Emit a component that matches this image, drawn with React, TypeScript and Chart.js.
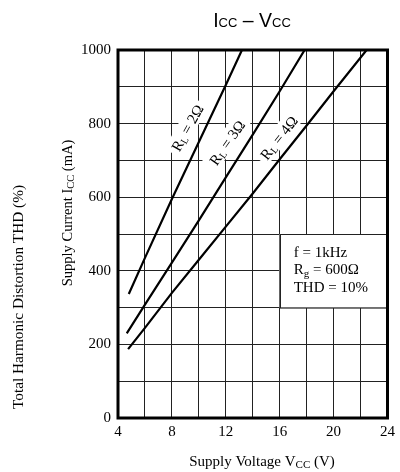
import { useEffect, useRef } from "react";
import { Chart, registerables } from "chart.js";

Chart.register(...registerables);

// Supply voltage (V) / supply current (mA)
const vccR2 = [4.8, 6, 8, 10, 12, 13.2];
const iccR2 = [337, 435, 595, 750, 905, 1000];
const vccR3 = [4.65, 6, 8, 10, 12, 14, 16, 17.85];
const iccR3 = [230, 308, 422, 537, 654, 770, 888, 1000];
const vccR4 = [4.75, 6, 8, 10, 12, 14, 16, 18, 20, 22.45];
const iccR4 = [187, 245, 340, 430, 520, 610, 703, 795, 888, 1000];

const loadNames = ["2Ω", "3Ω", "4Ω"];
const loadLabelV = [9.15, 12.1, 15.95];
const loadLabelI = [788, 748, 761];
const loadLabelAngle = [61, 55, 52];

const xTickLabels = [4, 8, 12, 16, 20, 24];
const yTickLabels = [0, 200, 400, 600, 800, 1000];

const infoBoxV = [16, 24];
const infoBoxI = [300, 500];
const infoLines = ["f = 1kHz", "R|g| = 600Ω", "THD = 10%"];

const SERIF = '"Liberation Serif", "Times New Roman", serif';
const SANS = '"Liberation Sans", Arial, sans-serif';

type Part = { t: string; size: number; dy?: number };

function drawRich(
  ctx: CanvasRenderingContext2D,
  parts: Part[],
  family: string,
  x: number,
  y: number,
  align: "left" | "center" | "right"
) {
  const widths = parts.map((p) => {
    ctx.font = `${p.size}px ${family}`;
    return ctx.measureText(p.t).width;
  });
  const total = widths.reduce((a, b) => a + b, 0);
  let cx = align === "center" ? x - total / 2 : align === "right" ? x - total : x;
  ctx.textAlign = "left";
  ctx.textBaseline = "alphabetic";
  parts.forEach((p, i) => {
    ctx.font = `${p.size}px ${family}`;
    ctx.fillText(p.t, cx, y + (p.dy || 0));
    cx += widths[i];
  });
  return total;
}

function measureRich(ctx: CanvasRenderingContext2D, parts: Part[], family: string) {
  let total = 0;
  parts.forEach((p) => {
    ctx.font = `${p.size}px ${family}`;
    total += ctx.measureText(p.t).width;
  });
  return total;
}

const overlay = {
  id: "overlay",
  beforeDatasetsDraw(chart: any) {
    const { ctx, scales } = chart;
    const x = scales.x;
    const y = scales.y;
    ctx.save();
    // info box
    const bx1 = x.getPixelForValue(infoBoxV[0]);
    const bx2 = x.getPixelForValue(infoBoxV[1]);
    const by1 = y.getPixelForValue(infoBoxI[1]);
    const by2 = y.getPixelForValue(infoBoxI[0]);
    ctx.fillStyle = "#fff";
    ctx.fillRect(bx1, by1, bx2 - bx1, by2 - by1);
    ctx.strokeStyle = "#222";
    ctx.lineWidth = 1;
    ctx.strokeRect(Math.round(bx1) + 0.5, Math.round(by1) + 0.5, bx2 - bx1, by2 - by1);
    ctx.fillStyle = "#000";
    infoLines.forEach((line, i) => {
      const segs = line.split("|");
      const parts: Part[] = segs.map((s, k) =>
        k % 2 === 1 ? { t: s, size: 11, dy: 3 } : { t: s, size: 15 }
      );
      drawRich(ctx, parts, SERIF, bx1 + 14, by1 + 22.5 + i * 17.8, "left");
    });
    // load labels
    loadNames.forEach((name, i) => {
      const px = x.getPixelForValue(loadLabelV[i]);
      const py = y.getPixelForValue(loadLabelI[i]);
      const parts: Part[] = [
        { t: "R", size: 15 },
        { t: "L", size: 10, dy: 2 },
        { t: " = " + name, size: 15 },
      ];
      ctx.save();
      ctx.translate(px, py);
      ctx.rotate((-loadLabelAngle[i] * Math.PI) / 180);
      const w = measureRich(ctx, parts, SERIF);
      ctx.fillStyle = "#fff";
      ctx.fillRect(-w / 2 - 4, -10, w + 8, 18);
      ctx.fillStyle = "#000";
      drawRich(ctx, parts, SERIF, 0, 5, "center");
      ctx.restore();
    });
    ctx.restore();
  },
  afterDraw(chart: any) {
    const { ctx, chartArea } = chart;
    ctx.save();
    ctx.strokeStyle = "#000";
    ctx.lineWidth = 3;
    ctx.strokeRect(
      chartArea.left,
      chartArea.top,
      chartArea.right - chartArea.left,
      chartArea.bottom - chartArea.top
    );
    ctx.fillStyle = "#000";
    // title
    drawRich(
      ctx,
      [
        { t: "I", size: 19.5 },
        { t: "CC", size: 13 },
        { t: " – ", size: 19.5 },
        { t: "V", size: 19.5 },
        { t: "CC", size: 13 },
      ],
      SANS,
      252,
      27,
      "center"
    );
    // x title
    drawRich(
      ctx,
      [
        { t: "Supply Voltage V", size: 15 },
        { t: "CC", size: 11, dy: 2 },
        { t: " (V)", size: 15 },
      ],
      SERIF,
      262,
      466,
      "center"
    );
    // y title
    ctx.save();
    ctx.translate(72, 213);
    ctx.rotate(-Math.PI / 2);
    drawRich(
      ctx,
      [
        { t: "Supply Current I", size: 14.5 },
        { t: "CC", size: 10.5, dy: 2 },
        { t: " (mA)", size: 14.5 },
      ],
      SERIF,
      0,
      0,
      "center"
    );
    ctx.restore();
    // secondary left title
    ctx.save();
    ctx.translate(23, 297);
    ctx.rotate(-Math.PI / 2);
    drawRich(ctx, [{ t: "Total Harmonic Distortion THD (%)", size: 15.3 }], SERIF, 0, 0, "center");
    ctx.restore();
    ctx.restore();
  },
};

function toPoints(vs: number[], is: number[]) {
  return vs.map((v, k) => ({ x: v, y: is[k] }));
}

export default function App() {
  const ref = useRef<HTMLCanvasElement | null>(null);
  useEffect(() => {
    if (!ref.current) return;
    const mk = (vs: number[], is: number[], label: string) => ({
      label,
      data: toPoints(vs, is),
      borderColor: "#000",
      backgroundColor: "#000",
      borderWidth: 2.2,
      pointRadius: 0,
      tension: 0,
      fill: false,
    });
    const chart = new Chart(ref.current, {
      type: "line",
      data: {
        datasets: [
          mk(vccR2, iccR2, "RL = " + loadNames[0]),
          mk(vccR3, iccR3, "RL = " + loadNames[1]),
          mk(vccR4, iccR4, "RL = " + loadNames[2]),
        ],
      },
      options: {
        animation: false,
        responsive: true,
        maintainAspectRatio: false,
        layout: { padding: { top: 50, right: 11, left: 0, bottom: 0 } },
        plugins: {
          legend: { display: false },
          tooltip: { enabled: false },
          title: { display: false },
        },
        scales: {
          x: {
            type: "linear",
            min: 4,
            max: 24,
            afterFit: (s: any) => {
              s.height = 54;
            },
            border: { display: false },
            grid: { color: "#222", lineWidth: 1, drawTicks: false },
            ticks: {
              stepSize: 2,
              padding: 5,
              color: "#000",
              font: { family: SERIF, size: 15 },
              maxRotation: 0,
              autoSkip: false,
              callback: (v: any) => (xTickLabels.includes(Number(v)) ? String(v) : ""),
            },
          },
          y: {
            type: "linear",
            min: 0,
            max: 1000,
            afterFit: (s: any) => {
              s.width = 118;
            },
            border: { display: false },
            grid: { color: "#222", lineWidth: 1, drawTicks: false },
            ticks: {
              stepSize: 100,
              padding: 7,
              color: "#000",
              font: { family: SERIF, size: 15 },
              autoSkip: false,
              callback: (v: any) => (yTickLabels.includes(Number(v)) ? String(v) : ""),
            },
          },
        },
      },
      plugins: [overlay],
    });
    return () => chart.destroy();
  }, []);
  return (
    <div style={{ position: "fixed", left: 0, top: 0, width: 400, height: 472, background: "#fff" }}>
      <canvas ref={ref} />
    </div>
  );
}
